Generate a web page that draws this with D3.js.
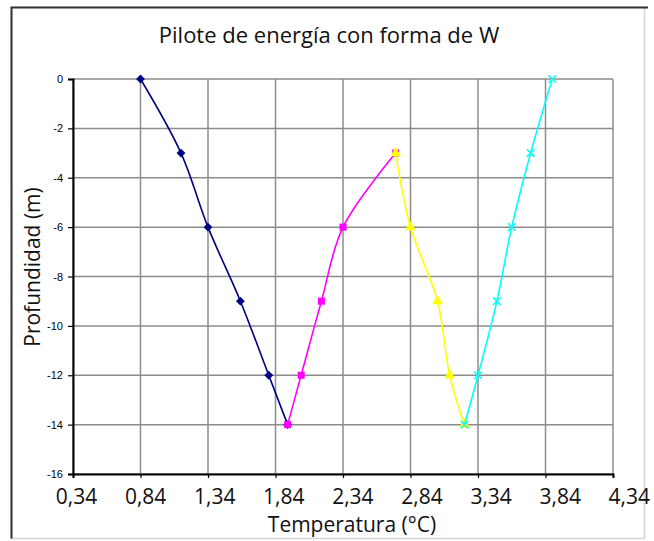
<!DOCTYPE html>
<html>
<head>
<meta charset="utf-8">
<script src="https://cdn.jsdelivr.net/npm/d3@7"></script>
<style>
body { margin: 0; background: #fff; }
</style>
</head>
<body>
<script>
// datos
let depths1 = [0, -3, -6, -9, -12, -14];
let temps1 = [0.84, 1.14, 1.34, 1.58, 1.79, 1.93];
let depths2 = [-14, -12, -9, -6, -3];
let temps2 = [1.93, 2.03, 2.18, 2.34, 2.73];
let depths3 = [-3, -6, -9, -12, -14];
let temps3 = [2.73, 2.84, 3.04, 3.13, 3.24];
let depths4 = [-14, -12, -9, -6, -3, 0];
let temps4 = [3.24, 3.34, 3.48, 3.59, 3.73, 3.89];

let xTicks = [0.34, 0.84, 1.34, 1.84, 2.34, 2.84, 3.34, 3.84, 4.34];
let yTicks = [0, -2, -4, -6, -8, -10, -12, -14, -16];

let frame = { width: 654, height: 541 }
let plot = { left: 73, top: 79, right: 613, bottom: 474 }

let svg = d3.select('body')
	.append('svg')
	.attr('width', frame.width)
	.attr('height', frame.height);

// marco exterior
svg.append('rect')
	.attr('x', 11.5).attr('y', 7.5)
	.attr('width', 633).attr('height', 531)
	.attr('fill', '#fff')
	.attr('stroke', '#d4d4d4')
	.attr('stroke-width', 1.5);
svg.append('path')
	.attr('d', 'M11.5,538.5 V7.5 H648')
	.attr('fill', 'none')
	.attr('stroke', '#333')
	.attr('stroke-width', 2);

let xScale = d3.scaleLinear()
	.domain([0.34, 4.34])
	.range([plot.left, plot.right]);

let yScale = d3.scaleLinear()
	.domain([-16, 0])
	.range([plot.bottom, plot.top]);

let comma = d3.formatLocale({ decimal: ',', thousands: '.', grouping: [3], currency: ['', ''] }).format('.2f');

// rejilla
svg.append('g')
	.selectAll('line')
	.data(yTicks)
	.enter()
	.append('line')
	.attr('x1', plot.left).attr('x2', plot.right)
	.attr('y1', d => yScale(d)).attr('y2', d => yScale(d))
	.attr('stroke', '#8c8c8c')
	.attr('stroke-width', 1.5);

svg.append('g')
	.selectAll('line')
	.data(xTicks)
	.enter()
	.append('line')
	.attr('x1', d => xScale(d)).attr('x2', d => xScale(d))
	.attr('y1', plot.top).attr('y2', plot.bottom)
	.attr('stroke', '#8c8c8c')
	.attr('stroke-width', 1.5);

// ejes
let xAxis = svg.append('g')
	.attr('transform', `translate(0, ${plot.bottom})`)
	.call(d3.axisBottom(xScale).tickValues(xTicks).tickFormat(comma).tickSize(4).tickPadding(11));

xAxis.select('.domain').attr('stroke', '#000').attr('stroke-width', 2);
xAxis.selectAll('.tick line').attr('stroke', '#000').attr('stroke-width', 1.2);
xAxis.selectAll('.tick text')
	.attr('fill', '#111')
	.attr('font-family', 'Open Sans')
	.attr('font-size', 21)
	.attr('dx', (d, i) => 3 + i * 1.6);

let yAxis = svg.append('g')
	.attr('transform', `translate(${plot.left}, 0)`)
	.call(d3.axisLeft(yScale).tickValues(yTicks).tickFormat(d => String(d)).tickSize(5).tickPadding(5));

yAxis.select('.domain').attr('stroke', '#000').attr('stroke-width', 2);
yAxis.selectAll('.tick line').attr('stroke', '#000').attr('stroke-width', 1.2);
yAxis.selectAll('.tick text')
	.attr('fill', '#000')
	.attr('font-family', 'Liberation Sans')
	.attr('font-size', 11);

// series
let series = [
	{ temps: temps1, depths: depths1, color: '#000080', marker: d3.symbolDiamond2 },
	{ temps: temps2, depths: depths2, color: '#ff00ff', marker: d3.symbolSquare },
	{ temps: temps3, depths: depths3, color: '#ffff00', marker: d3.symbolTriangle },
	{ temps: temps4, depths: depths4, color: '#00ffff', marker: d3.symbolX }
];

let line = d3.line()
	.x(d => xScale(d[0]))
	.y(d => yScale(d[1]))
	.curve(d3.curveCatmullRom.alpha(0.5));

series.forEach(s => {
	let pts = s.temps.map((t, i) => [t, s.depths[i]]);
	svg.append('path')
		.datum(pts)
		.attr('d', line)
		.attr('fill', 'none')
		.attr('stroke', s.color)
		.attr('stroke-width', 1.6);

	let isX = s.marker === d3.symbolX;
	svg.append('g')
		.selectAll('path')
		.data(pts)
		.enter()
		.append('path')
		.attr('transform', d => `translate(${xScale(d[0])}, ${yScale(d[1])})`)
		.attr('d', d3.symbol().type(s.marker).size(isX ? 40 : 50))
		.attr('fill', isX ? 'none' : s.color)
		.attr('stroke', s.color)
		.attr('stroke-width', isX ? 1.5 : 0);
});

// titulos
svg.append('text')
	.attr('x', 329)
	.attr('y', 43)
	.attr('text-anchor', 'middle')
	.attr('font-family', 'Open Sans')
	.attr('font-size', 22)
	.attr('fill', '#111')
	.text('Pilote de energía con forma de W');

svg.append('text')
	.attr('x', 352)
	.attr('y', 532)
	.attr('text-anchor', 'middle')
	.attr('font-family', 'Open Sans')
	.attr('font-size', 21)
	.attr('fill', '#111')
	.text('Temperatura (°C)');

svg.append('text')
	.attr('transform', 'translate(40, 267) rotate(-90)')
	.attr('text-anchor', 'middle')
	.attr('font-family', 'Open Sans')
	.attr('font-size', 21)
	.attr('fill', '#111')
	.text('Profundidad (m)');
</script>
</body>
</html>
